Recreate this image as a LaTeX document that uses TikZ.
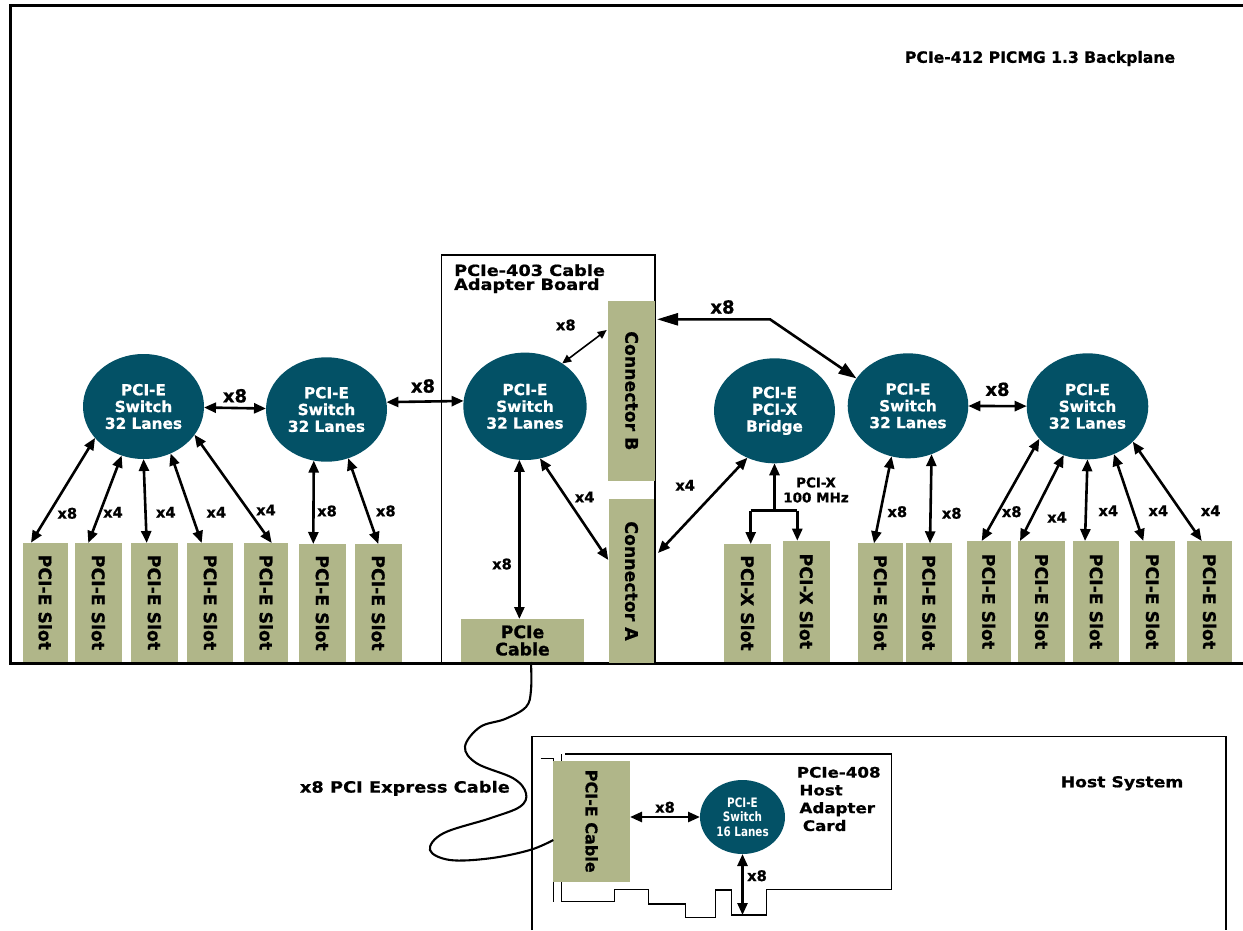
\documentclass[tikz,border=0pt]{standalone}
\usepackage{fontspec}
\setmainfont{DejaVu Sans}[BoldFeatures={FakeBold=0.8}]
\newfontfamily\widefont{DejaVu Sans}[FakeStretch=1.15,BoldFeatures={FakeBold=0.8}]
\newfontfamily\condfont{DejaVu Sans}[FakeStretch=0.8]
\usepackage{graphicx}
\usetikzlibrary{arrows.meta,shapes.geometric}
\definecolor{swteal}{RGB}{3,81,102}
\definecolor{slotcol}{RGB}{176,182,137}
\begin{document}
\begin{tikzpicture}[x=1pt,y=-1pt,
  sw/.style={ellipse, fill=swteal, text=white, inner sep=0pt, outer sep=0pt, align=center, font=\bfseries\fontsize{15.3}{16.8}\selectfont},
  slotbox/.style={fill=slotcol, inner sep=0pt, outer sep=0pt, anchor=north west, font=\bfseries\fontsize{17.3}{17.3}\selectfont},
  lane/.style={inner sep=0pt, font=\bfseries\fontsize{14.7}{15}\selectfont},
  biglane/.style={inner sep=0pt, font=\bfseries\fontsize{18}{18}\selectfont},
  plain/.style={inner sep=0pt, font=\widefont\bfseries\fontsize{15}{17.8}\selectfont},
  dbl/.style={line width=2.6pt, {Triangle[length=12pt,width=10pt]}-{Triangle[length=12pt,width=10pt]}},
  sgl/.style={line width=2.6pt, -{Triangle[length=12pt,width=10pt]}},
  thinarr/.style={line width=1.6pt, {Triangle[length=9pt,width=8pt]}-{Triangle[length=9pt,width=8pt]}},
  longarr/.style={line width=2.6pt, {Triangle[length=21pt,width=12pt]}-{Triangle[length=18pt,width=12pt]}},
  frame/.style={line width=2.6pt},
  outline/.style={line width=1.5pt},
]
\useasboundingbox (0,0) rectangle (1243,930);

% ---------------- backplane ----------------
\draw[frame] (1243,5.2) -- (10.2,5.2) -- (10.2,663.3) -- (1243,663.3);
\node[inner sep=0pt, font=\bfseries\fontsize{15.6}{16}\selectfont] (ttl) at (1040,58.5) {PCIe-412 PICMG 1.3 Backplane};

% adapter board
\node[draw, line width=1.3pt, inner sep=0pt, outer sep=0pt, anchor=north west, minimum width=213.3pt, minimum height=408pt] (board) at (441.7,255) {};
\node[plain, anchor=west, align=left, font=\widefont\bfseries\fontsize{15.4}{14}\selectfont] (btitle) at (454,278.7) {PCIe-403 Cable\\Adapter Board};

% slots
\foreach \n/\x/\y/\w/\h in {sl1/22.7/542.7/45/119.3, sl2/75/543/46.7/119, sl3/131/543/46.7/119, sl4/187.3/543/46/119, sl5/244/543/44.3/119, sl6/299/544/46.7/118, sl7/355/544/46.7/118, sl8/858.3/543.3/44.4/118.7, sl9/906/543.3/45.7/118.7, sl10/966.7/541/44/121, sl11/1018.3/541/46.7/121, sl12/1073.3/541/46/121, sl13/1130/541/45/121, sl14/1187.3/541/44.4/121}
  \node[slotbox, minimum width=\w pt, minimum height=\h pt] (\n) at (\x,\y) {\rotatebox{-90}{PCI-E Slot}};
\foreach \n/\x/\y/\w/\h in {px1/724/544/47/118, px2/782.7/540.7/47.3/121.3}
  \node[slotbox, minimum width=\w pt, minimum height=\h pt] (\n) at (\x,\y) {\rotatebox{-90}{PCI-X Slot}};

\node[slotbox, minimum width=46.7pt, minimum height=179.7pt] (cb) at (608.3,301) {\rotatebox{-90}{Connector B}};
\node[slotbox, minimum width=45pt, minimum height=164pt] (ca) at (609,499) {\rotatebox{-90}{Connector A}};
\node[slotbox, minimum width=123pt, minimum height=43pt, align=center] (cab) at (461,619) {PCIe\\Cable};

% switches
\node[sw, minimum width=121pt, minimum height=105pt] (s1) at (143.5,406.5) {PCI-E\\Switch\\32 Lanes};
\node[sw, minimum width=121pt, minimum height=104.4pt] (s2) at (326.5,409.5) {PCI-E\\Switch\\32 Lanes};
\node[sw, minimum width=123.4pt, minimum height=107.4pt] (s3) at (525,406.3) {PCI-E\\Switch\\32 Lanes};
\node[sw, minimum width=121pt, minimum height=105pt] (br) at (774.5,410.8) {PCI-E\\PCI-X\\Bridge};
\node[sw, minimum width=120.6pt, minimum height=105pt] (s4) at (908,405.8) {PCI-E\\Switch\\32 Lanes};
\node[sw, minimum width=121.6pt, minimum height=106pt] (s5) at (1087.5,406.3) {PCI-E\\Switch\\32 Lanes};

% switch 1 links
\draw[dbl] (s1.213.6) -- ([xshift=8.3pt]sl1.north west);
\draw[dbl] (s1.246.8) -- ([xshift=13.3pt]sl2.north west);
\draw[dbl] (s1.270) -- ([xshift=15.7pt]sl3.north west);
\draw[dbl] (s1.300.2) -- ([xshift=14.4pt]sl4.north west);
\draw[dbl] (s1.331.6) -- ([xshift=27.7pt]sl5.north west);
\draw[dbl] (s2.256.4) -- ([xshift=14.3pt]sl6.north west);
\draw[dbl] (s2.294.8) -- ([xshift=23.3pt]sl7.north west);
\draw[dbl] (s1) -- (s2);
\draw[dbl] (s2.7.6) -- (s3.175.5);

\node[lane] (l1) at (67.3,513.3) {x8};
\node[lane] (l2) at (113,512.3) {x4};
\node[lane] (l3) at (165.8,512.3) {x4};
\node[lane] (l4) at (216.3,512.3) {x4};
\node[lane] (l5) at (266,510) {x4};
\node[lane] (l6) at (327,511) {x8};
\node[lane] (l7) at (385.8,511) {x8};
\node[biglane] (b1) at (235,395.8) {x8};
\node[biglane] (b2) at (423,386) {x8};

% adapter board links
\draw[thinarr] (s3.49.9) -- ([xshift=-1.6pt,yshift=-29pt]cb.north west);
\draw[dbl] (s3.264) -- (s3.264 |- cab.north);
\draw[dbl] (s3.286.3) -- ([xshift=-0.7pt,yshift=-61pt]ca.north west);
\draw[dbl] ([xshift=4pt,yshift=-54pt]ca.north east) -- (br.240.2);
\node[lane] (l8) at (565.8,325) {x8};
\node[lane] (l9) at (502,564) {x8};
\node[lane] (l10) at (584.7,497) {x4};
\node[lane] (l11) at (685.2,485.3) {x4};

% connector B to switch 4
\coordinate (bend) at (770,319.3);
\draw[longarr] ([xshift=2pt,yshift=-18.3pt]cb.north east) -- (bend) -- (s4.152.7);
\node[biglane] (b3) at (722.5,307) {x8};

% bridge to PCI-X slots
\coordinate (bar) at (br.south |- 0,510.7);
\coordinate (barL) at (750.7,510.7);
\coordinate (barR) at (797.3,510.7);
\draw[sgl] (bar) -- (br.south);
\draw[line width=2.6pt] (barL) -- (barR);
\draw[sgl] (barL) -- (barL |- px1.north);
\draw[sgl] (barR) -- (barR |- px2.north);
\node[inner sep=0pt, align=center, font=\bfseries\fontsize{13.5}{15}\selectfont] (pcix) at (816,490) {PCI-X\\100 MHz};

% switch 4 / 5 links
\draw[dbl] (s4.252.2) -- ([xshift=15.7pt]sl8.north west);
\draw[dbl] (s4.296.9) -- ([xshift=24pt]sl9.north west);
\draw[dbl] (s4) -- (s5);
\draw[dbl] (s5.214.4) -- ([xshift=15pt]sl10.north west);
\draw[dbl] (s5.244.2) -- ([xshift=1.7pt]sl11.north west);
\draw[dbl] (s5.270) -- ([xshift=11.7pt]sl12.north west);
\draw[dbl] (s5.299.5) -- ([xshift=13.3pt]sl13.north west);
\draw[dbl] (s5.322.1) -- ([xshift=14.4pt]sl14.north west);
\node[lane] (l12) at (897.3,511.7) {x8};
\node[lane] (l13) at (951.7,513.3) {x8};
\node[lane] (l14) at (1011.7,511.7) {x8};
\node[lane] (l15) at (1057,517.3) {x4};
\node[lane] (l16) at (1108.3,510.7) {x4};
\node[lane] (l17) at (1158.3,510.7) {x4};
\node[lane] (l18) at (1210.7,510.7) {x4};
\node[biglane] (b4) at (997.5,389.3) {x8};

% ---------------- host system ----------------
\draw[outline] (532,930) -- (532,736.7) -- (1226,736.7) -- (1226,930);
\node[plain] (hsys) at (1122,783.3) {Host System};

% adapter card outline
\draw[outline] (565,754) -- (891.7,754) -- (891.7,889.3) -- (766.7,889.3) -- (766.7,915) -- (731.7,915) -- (731.7,890) -- (715.7,890) -- (715.7,917.3) -- (685.7,917.3) -- (685.7,904) -- (648.3,904) -- (648.3,889.3) -- (614.3,889.3) -- (614.3,901.7) -- (561.7,901.7) -- (561.7,754);
\draw[outline] (540.7,758.3) -- (553.3,758.3) -- (553.3,901.7);
\coordinate (edge) at (742.5,915);

\node[slotbox, minimum width=76.7pt, minimum height=121pt, font=\bfseries\fontsize{16}{16}\selectfont] (hcab) at (553.3,760.7) {\rotatebox{-90}{PCI-E Cable}};
\node[sw, minimum width=85pt, minimum height=74pt, font=\condfont\bfseries\fontsize{13}{14.7}\selectfont] (hs) at (742.5,817) {PCI-E\\Switch\\16 Lanes};
\draw[dbl] (hcab.east |- hs.west) -- (hs.west);
\draw[dbl] (hs.south) -- (edge);
\node[lane] (l19) at (665,807.3) {x8};
\node[lane] (l20) at (757,875.7) {x8};
\node[plain, anchor=west, align=left, font=\widefont\bfseries\fontsize{14.5}{17.8}\selectfont] (htxt) at (796.7,799) {PCIe-408\\\hspace*{2.6pt}Host\\\hspace*{2.6pt}Adapter\\\hspace*{6pt}Card};

% cable
\coordinate (cabA) at ([xshift=8.5pt]cab.south);
\coordinate (cabB) at ([yshift=-18.8pt]hcab.west);
\draw[line width=2.1pt] plot[smooth, tension=0.6] coordinates {(cabA) (531,690) (526,707) (505,719) (480,727) (465,746.7) (476.7,763.3) (513.3,778.3) (526,793.3) (520,806.7) (490,818.3) (443.3,833.3) (430,850) (450,860) (490,858.3) (530,850) (cabB)};
\node[plain, anchor=east, font=\widefont\bfseries\fontsize{15.5}{16}\selectfont] (cbl) at (510,788.3) {x8 PCI Express Cable};
\end{tikzpicture}
\end{document}
